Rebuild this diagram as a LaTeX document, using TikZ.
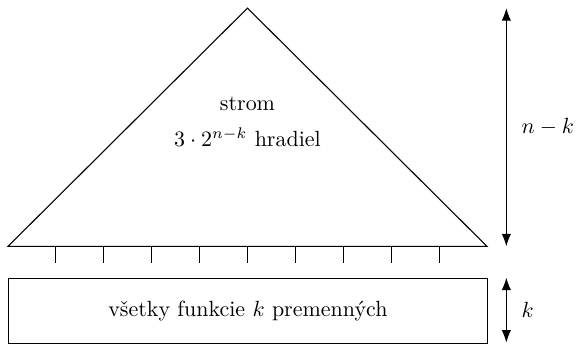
\documentclass[tikz,border=0pt]{standalone}
\usepackage{tikz}
\usetikzlibrary{arrows.meta,positioning}

\begin{document}
\begin{tikzpicture}[
    edge/.style={draw,line width=0.5pt},
    tick/.style={line width=0.4pt},
    dim/.style={{Latex[length=2mm,width=1.5mm]}-{Latex[length=2mm,width=1.5mm]},line width=0.5pt},
    label/.style={font=\normalsize,align=center}
]
\useasboundingbox (-0.128,-1.58) rectangle (9.10,3.94);
% strom
\coordinate (left) at (0,0);
\coordinate (right) at (7.66,0);
\coordinate (top) at (3.83,3.81);
\draw[edge] (left) -- (top) -- (right) -- cycle;
\foreach \i in {1,...,9}
    \draw[tick] (0.766*\i,0) -- ++(0,-0.27);
\node[label] (name) at (3.83,2.28) {strom};
\node[label] (count) at (3.83,1.74) {$3\cdot 2^{n-k}$ hradiel};
% funkcie
\node[draw,minimum width=7.66cm,minimum height=1.04cm,anchor=north west,inner sep=0pt] (funcs) at (0,-0.50) {};
\node[label] at (funcs.center) {v\v{s}etky funkcie $k$ premenn\'ych};
% rozmery
\coordinate (dtop) at (7.97,3.81);
\coordinate (dbot) at (7.97,0);
\draw[dim] (dtop) -- node[right=0.12cm] {$n-k$} (dbot);
\coordinate (ktop) at (7.97,-0.50);
\coordinate (kbot) at (7.97,-1.54);
\draw[dim] (ktop) -- node[right=0.12cm] {$k$} (kbot);
\end{tikzpicture}
\end{document}
